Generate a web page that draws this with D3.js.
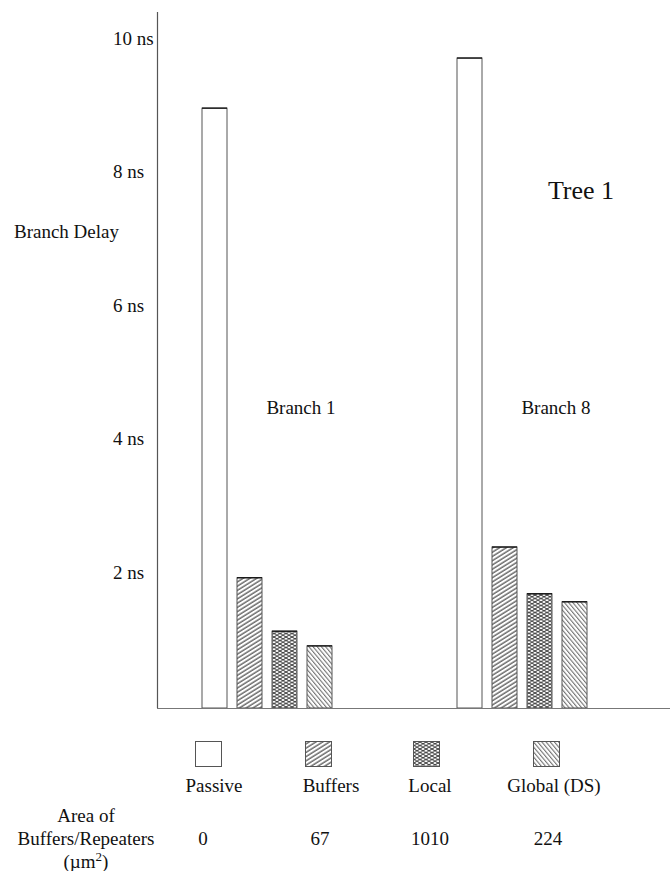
<!DOCTYPE html>
<html>
<head>
<meta charset="utf-8">
<script src="https://cdn.jsdelivr.net/npm/d3@7"></script>
<style>
  html, body { margin: 0; padding: 0; background: #fff; }
  svg { display: block; }
  text { font-family: "Liberation Serif", "Times New Roman", serif; fill: #111; }
</style>
</head>
<body>
<script>
// ---- data ----
const categories = ["Passive", "Buffers", "Local", "Global (DS)"];
const branches = ["Branch 1", "Branch 8"];
const branch1Values = [8.98, 1.95, 1.15, 0.93];
const branch8Values = [9.73, 2.41, 1.71, 1.59];
const areaValues = [0, 67, 1010, 224];
const yTicks = [2, 4, 6, 8, 10];
const tickLabel = d => d + " ns";

// ---- layout ----
const W = 670, H = 871;
const svg = d3.select("body").append("svg").attr("width", W).attr("height", H);

const defs = svg.append("defs");
// Buffers: "/" hatching
const pBuf = defs.append("pattern").attr("id", "pBuf").attr("patternUnits", "userSpaceOnUse")
  .attr("width", 3.6).attr("height", 3.6).attr("patternTransform", "rotate(-32)");
pBuf.append("rect").attr("width", 3.6).attr("height", 3.6).attr("fill", "#fff");
pBuf.append("line").attr("x1", 0).attr("y1", 1).attr("x2", 3.6).attr("y2", 1)
  .attr("stroke", "#222").attr("stroke-width", 1);
// Local: dense crosshatch
const pLoc = defs.append("pattern").attr("id", "pLoc").attr("patternUnits", "userSpaceOnUse")
  .attr("width", 6).attr("height", 3.5);
pLoc.append("rect").attr("width", 6).attr("height", 3.5).attr("fill", "#fff");
pLoc.append("path").attr("d", "M0,0 L6,3.5 M0,3.5 L6,0 M-3,1.75 L0,3.5 M6,0 L9,1.75 M-3,1.75 L0,0 M6,3.5 L9,1.75")
  .attr("stroke", "#222").attr("stroke-width", 0.9).attr("fill", "none");
// Global: "\" hatching, lighter
const pGlo = defs.append("pattern").attr("id", "pGlo").attr("patternUnits", "userSpaceOnUse")
  .attr("width", 3.2).attr("height", 3.2).attr("patternTransform", "rotate(50)");
pGlo.append("rect").attr("width", 3.2).attr("height", 3.2).attr("fill", "#fff");
pGlo.append("line").attr("x1", 0).attr("y1", 1).attr("x2", 3.2).attr("y2", 1)
  .attr("stroke", "#555").attr("stroke-width", 0.9);

const fills = ["#fff", "url(#pBuf)", "url(#pLoc)", "url(#pGlo)"];

const y = d3.scaleLinear().domain([0, 10]).range([708, 40]);
const xGroup = d3.scaleBand().domain(branches).range([202, 712]).paddingInner(0).paddingOuter(0);
const xInner = d3.scaleBand().domain(categories).range([0, 130]).paddingInner(10 / 35).paddingOuter(0);

const data = branches.map((b, i) => ({
  branch: b,
  values: (i === 0 ? branch1Values : branch8Values).map((v, j) => ({ cat: categories[j], v, j }))
}));

// bars
const g = svg.append("g");
const groups = g.selectAll("g.grp").data(data).join("g")
  .attr("transform", d => `translate(${xGroup(d.branch)},0)`);
groups.selectAll("rect").data(d => d.values).join("rect")
  .attr("x", d => xInner(d.cat))
  .attr("y", d => y(d.v))
  .attr("width", xInner.bandwidth())
  .attr("height", d => y(0) - y(d.v))
  .attr("fill", d => fills[d.j])
  .attr("stroke", "#555").attr("stroke-width", 1);
// darker top edges
groups.selectAll("line.top").data(d => d.values).join("line")
  .attr("x1", d => xInner(d.cat)).attr("x2", d => xInner(d.cat) + xInner.bandwidth())
  .attr("y1", d => y(d.v)).attr("y2", d => y(d.v))
  .attr("stroke", "#111").attr("stroke-width", 1.3);

// axes lines
svg.append("line").attr("x1", 157.5).attr("x2", 157.5).attr("y1", 12).attr("y2", y(0))
  .attr("stroke", "#555").attr("stroke-width", 1.2);
svg.append("line").attr("x1", 157).attr("x2", 670).attr("y1", y(0) + 0.5).attr("y2", y(0) + 0.5)
  .attr("stroke", "#777").attr("stroke-width", 1.2);

// y tick labels
const yAxis = d3.axisLeft(y).tickValues(yTicks).tickFormat(tickLabel).tickSize(0).tickPadding(0);
const ya = svg.append("g").attr("transform", "translate(113,-2)").call(yAxis);
ya.select(".domain").remove();
ya.selectAll("text").attr("text-anchor", "start").attr("x", 0)
  .style("font-family", '"Liberation Serif", serif').style("font-size", "19px").attr("fill", "#111");

svg.append("text").attr("x", 14).attr("y", 238).style("font-size", "19px").text("Branch Delay");

// branch labels
svg.selectAll("text.blab").data(branches).join("text")
  .attr("x", d => xGroup(d) + 99).attr("y", 414)
  .attr("text-anchor", "middle").style("font-size", "19px").text(d => d);

svg.append("text").attr("x", 581).attr("y", 199).attr("text-anchor", "middle")
  .style("font-size", "26px").text("Tree 1");

// legend
const legBoxX = [195, 305, 413, 533];
const legLabelX = [214, 331, 430, 554];
const areaX = [203, 320, 430, 548];
categories.forEach((c, i) => {
  svg.append("rect").attr("x", legBoxX[i] + 0.5).attr("y", 741.5).attr("width", 26).attr("height", 25)
    .attr("fill", fills[i]).attr("stroke", "#555").attr("stroke-width", 1);
  svg.append("text").attr("x", legLabelX[i]).attr("y", 792).attr("text-anchor", "middle")
    .style("font-size", "19px").text(c);
  svg.append("text").attr("x", areaX[i]).attr("y", 845).attr("text-anchor", "middle")
    .style("font-size", "19px").text(areaValues[i]);
});

svg.append("text").attr("x", 86).attr("y", 822).attr("text-anchor", "middle").style("font-size", "19px").text("Area of");
svg.append("text").attr("x", 86).attr("y", 845).attr("text-anchor", "middle").style("font-size", "19px").text("Buffers/Repeaters");
const unit = svg.append("text").attr("x", 86).attr("y", 868).attr("text-anchor", "middle").style("font-size", "19px");
unit.append("tspan").text("(\u00b5m");
unit.append("tspan").attr("dy", -7).style("font-size", "13px").text("2");
unit.append("tspan").attr("dy", 7).text(")");
</script>
</body>
</html>
